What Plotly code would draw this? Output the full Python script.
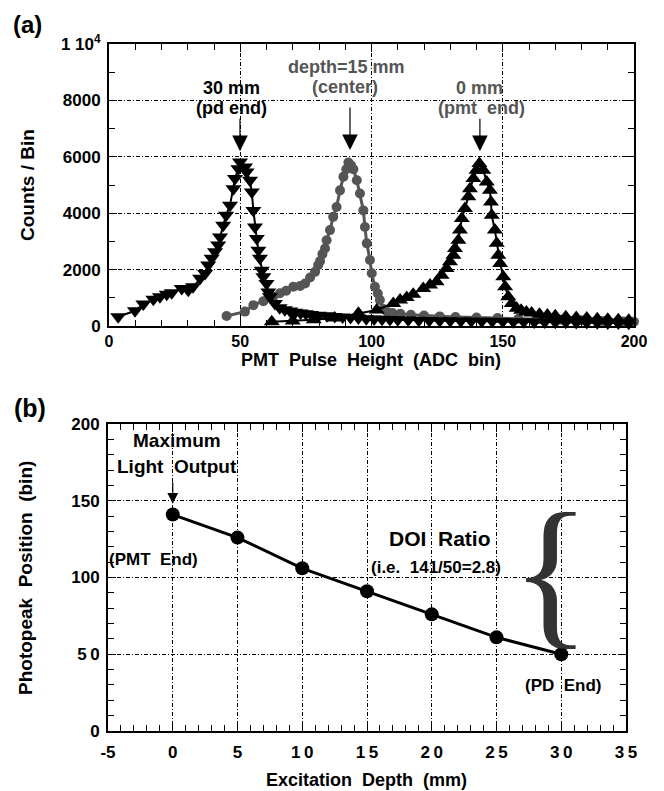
import plotly.graph_objects as go

# ---------------- data: panel (a) ----------------
x_30mm = [3.5, 9.9, 13.1, 16.9, 19.4, 22, 23.9, 27.7, 30.2, 32, 34.7, 36.6, 37.8, 39.1, 40.4, 41.6, 42.3,
          43.5, 44.6, 46.1, 47.4, 48, 49.3, 49.9, 51.8, 52.4, 53.7, 54.4, 55, 55.6, 56.3, 56.9, 57.5,
          58.2, 58.8, 60, 60.7, 61.3, 63.2, 65, 67, 69, 71, 73, 75, 77, 80, 83, 86, 89, 92, 95, 98,
          101, 104, 107, 110, 114, 118, 122, 126, 130, 134, 138, 142, 146, 150, 154, 158, 162, 166,
          170, 174, 178, 182, 186, 190, 194, 198, 201]
y_30mm = [330, 540, 780, 945, 1040, 1130, 1180, 1330, 1270, 1390, 1690, 1860, 2160, 2400, 2630, 2870, 3160,
          3570, 3930, 4280, 4870, 5230, 5580, 5820, 5640, 5460, 5170, 4750, 4100, 3510, 3100, 2690, 2400,
          1980, 1750, 1510, 1210, 1040, 800, 650, 580, 530, 490, 460, 430, 410, 380, 360, 340, 320, 300, 280,
          260, 250, 240, 230, 220, 210, 200, 195, 190, 185, 180, 175, 170, 165, 160, 155, 150, 145, 140,
          135, 130, 125, 120, 115, 110, 105, 100, 100]

x_15mm = [44.8, 51.8, 55, 58.8, 62.6, 65.1, 67.5, 70.2, 72.8, 74.7, 76.6, 78.5, 79.7, 80.4, 81.3, 82.3, 82.9,
          84.2, 85.4, 86.7, 88, 89.3, 90.4, 91.2, 92.2, 93.1, 94.4, 95.6, 96.9, 97.5, 98.2, 99.4, 100.1,
          101.3, 102.4, 103.2, 104.5, 106, 108, 111, 115, 120, 126, 132, 140, 148, 156, 164, 172, 180,
          188, 196, 200]
y_15mm = [355, 510, 740, 880, 1040, 1160, 1250, 1390, 1420, 1510, 1720, 1920, 2160, 2300, 2550, 2750, 3040,
          3400, 3870, 4220, 4810, 5290, 5560, 5800, 5700, 5560, 5170, 4700, 4100, 3510, 2930, 2340, 1870,
          1390, 1150, 920, 600, 500, 460, 430, 400, 370, 340, 320, 300, 280, 260, 240, 220, 200,
          180, 160, 150]

x_0mm = [62, 70, 78, 86, 95, 102, 108.3, 110.9, 113.4, 115.9, 119.7, 122.3, 124.8, 126.7, 128.6, 129.9,
         131.2, 131.8, 133.1, 133.7, 134.4, 135.6, 136.9, 137.5, 138.8, 140, 141.1, 142.6, 143.9, 145.1,
         145.5, 145.8, 147, 147.7, 148.3, 149, 150.2, 150.9, 152.1, 153.4, 155.3, 157, 159, 161, 164,
         167, 170, 174, 178, 182, 186, 190, 194, 198, 201]
y_0mm = [150, 180, 220, 280, 450, 570, 800, 920, 1015, 1130, 1330, 1450, 1570, 1800, 2040, 2280,
         2510, 2750, 3040, 3400, 3810, 4170, 4580, 4870, 5230, 5520, 5760, 5520, 5110, 4810,
         4400, 3930, 3400, 2930, 2510, 2220, 1750, 1390, 1040, 800, 630, 560, 500, 460, 420,
         390, 360, 330, 300, 280, 260, 240, 220, 200, 190]

a_yticks = [0, 2000, 4000, 6000, 8000, 10000]
a_yticktext = ["0", "2000", "4000", "6000", "8000", "1 10<sup>4</sup>"]
a_xticks = [0, 50, 100, 150, 200]

# ---------------- data: panel (b) ----------------
depth_mm = [0, 5, 10, 15, 20, 25, 30]
photopeak_bin = [141, 126, 106, 91, 76, 61, 50]
b_xticks = [-5, 0, 5, 10, 15, 20, 25, 30, 35]
b_xticktext = ["-5", "0", "5", "1\u20090", "1\u20095", "2\u20090", "2\u20095", "3\u20090", "3\u20095"]
b_yticks = [0, 50, 100, 150, 200]
b_yticktext = ["0", "5\u20090", "100", "150", "200"]

W, H = 664, 791
OFF = 8  # page body margin offset in the browser
def px(x):
    return (x - OFF) / W
def py(y):
    return 1 - (y - OFF) / H

FONT = "Liberation Sans, Arial, sans-serif"
GRAY = "#555555"
NB = "\u00a0"

fig = go.Figure()

fig.add_trace(go.Scatter(x=x_15mm, y=y_15mm, mode="lines+markers",
                         line=dict(color=GRAY, width=3),
                         marker=dict(symbol="circle", size=10, color=GRAY),
                         cliponaxis=False, xaxis="x", yaxis="y"))
fig.add_trace(go.Scatter(x=x_30mm, y=y_30mm, mode="lines+markers",
                         line=dict(color="black", width=2),
                         marker=dict(symbol="triangle-down", size=14, color="black"),
                         cliponaxis=False, xaxis="x", yaxis="y"))
fig.add_trace(go.Scatter(x=x_0mm, y=y_0mm, mode="lines+markers",
                         line=dict(color="black", width=2),
                         marker=dict(symbol="triangle-up", size=14, color="black"),
                         cliponaxis=False, xaxis="x", yaxis="y"))
fig.add_trace(go.Scatter(x=depth_mm, y=photopeak_bin, mode="lines+markers",
                         line=dict(color="black", width=3),
                         marker=dict(symbol="circle", size=14, color="black"),
                         cliponaxis=False, xaxis="x2", yaxis="y2"))

def tfont(size):
    return dict(family=FONT, size=size, color="black", weight="bold")

grid_common = dict(showgrid=True, gridcolor="black", gridwidth=1, griddash="4px,2px,1px,2px",
                   zeroline=False, showline=True, linecolor="black", linewidth=2, mirror="ticks",
                   ticks="inside", ticklen=8, tickwidth=1, tickcolor="black", automargin=False)
minor_common = dict(ticks="inside", ticklen=6, tickcolor="black", showgrid=False, tick0=0)

fig.update_layout(
    template="none",
    width=W, height=H, showlegend=False,
    margin=dict(l=0, r=0, t=0, b=0, pad=0, autoexpand=False),
    paper_bgcolor="white", plot_bgcolor="white",
    xaxis=dict(domain=[px(109), px(634)], range=[0, 200], tickvals=a_xticks, anchor="y",
               tickfont=tfont(16), minor=dict(dtick=10, **minor_common), **grid_common),
    yaxis=dict(domain=[py(326), py(44)], range=[0, 10000], tickvals=a_yticks, ticktext=a_yticktext,
               anchor="x", ticklabelstandoff=3, tickfont=tfont(17),
               minor=dict(dtick=1000, **minor_common), **grid_common),
    xaxis2=dict(domain=[px(108), px(626)], range=[-5, 35], tickvals=b_xticks, ticktext=b_xticktext,
                anchor="y2", ticklabelstandoff=5, tickfont=tfont(17),
                minor=dict(dtick=1, **minor_common), **grid_common),
    yaxis2=dict(domain=[py(731), py(424)], range=[0, 200], tickvals=b_yticks, ticktext=b_yticktext,
                anchor="x2", ticklabelstandoff=3, tickfont=tfont(17),
                minor=dict(dtick=10, **minor_common), **grid_common),
)

def ptxt(text, x, y, size, angle=0, xanchor="center"):
    fig.add_annotation(text=text, x=px(x), y=py(y), xref="paper", yref="paper", showarrow=False,
                       xanchor=xanchor, yanchor="middle", textangle=angle, font=tfont(size))

def dtxt(text, x, y, size, color="black", ax="x", ay="y"):
    fig.add_annotation(text=text, x=x, y=y, xref=ax, yref=ay, showarrow=False,
                       xanchor="center", yanchor="middle", borderpad=0,
                       font=dict(family=FONT, size=size, color=color, weight="bold"))

def arrow(x, y_from, y_to, ax="x", ay="y", scale=2.6, width=1.2):
    fig.add_annotation(text="", x=x, y=y_to, xref=ax, yref=ay, ax=x, ay=y_from,
                       axref=ax, ayref=ay, showarrow=True, arrowhead=2, arrowsize=scale,
                       arrowwidth=width, arrowcolor="black", standoff=0, startstandoff=0)

# panel labels and axis titles
ptxt("(a)", 11, 25, 24, xanchor="left")
ptxt("(b)", 12, 408, 25, xanchor="left")
ptxt("Counts" + NB + "/" + NB + "Bin", 27, 185, 19, angle=-90)
ptxt("PMT" + NB + " Pulse" + NB + " Height" + NB + " (ADC" + NB + " bin)", 371, 360, 18)
ptxt("Photopeak" + NB + " Position" + NB + " (bin)", 25, 578, 19, angle=-90)
ptxt("Excitation" + NB + " Depth" + NB + " (mm)", 367, 780, 18)

# panel (a) labels with arrows
dtxt("30 mm", 46.5, 8450, 18)
dtxt("(pd end)", 46.5, 7720, 18)
arrow(49.9, 7400, 6200)
dtxt("depth=15 mm", 90.3, 9200, 18, GRAY)
dtxt("(center)", 90.0, 8470, 18, GRAY)
arrow(91.8, 7800, 6240)
dtxt("0 mm", 141.3, 8450, 18, GRAY)
dtxt("(pmt" + NB + " end)", 142.0, 7720, 18, GRAY)
arrow(141.3, 7400, 6200)

# panel (b) annotations
dtxt("Maximum", 0.3, 189, 19, ax="x2", ay="y2")
dtxt("Light" + NB + " Output", 0.3, 172, 19, ax="x2", ay="y2")
arrow(0, 163, 148, ax="x2", ay="y2", scale=1.8, width=1.2)
dtxt("(PMT" + NB + " End)", -1.5, 112, 17, ax="x2", ay="y2")
dtxt("DOI" + NB + " Ratio", 20.6, 125.5, 21, ax="x2", ay="y2")
dtxt("(i.e." + NB + " 141/50=2.8)", 20.3, 106.5, 17, ax="x2", ay="y2")
dtxt("(PD" + NB + " End)", 30.2, 29.6, 17, ax="x2", ay="y2")
fig.add_annotation(text="{", x=29.2, y=104.5, xref="x2", yref="y2", showarrow=False,
                   xanchor="center", yanchor="middle",
                   font=dict(family="Liberation Serif, Times New Roman, serif", size=166, color="#333333"))

fig.write_html("out.html")
